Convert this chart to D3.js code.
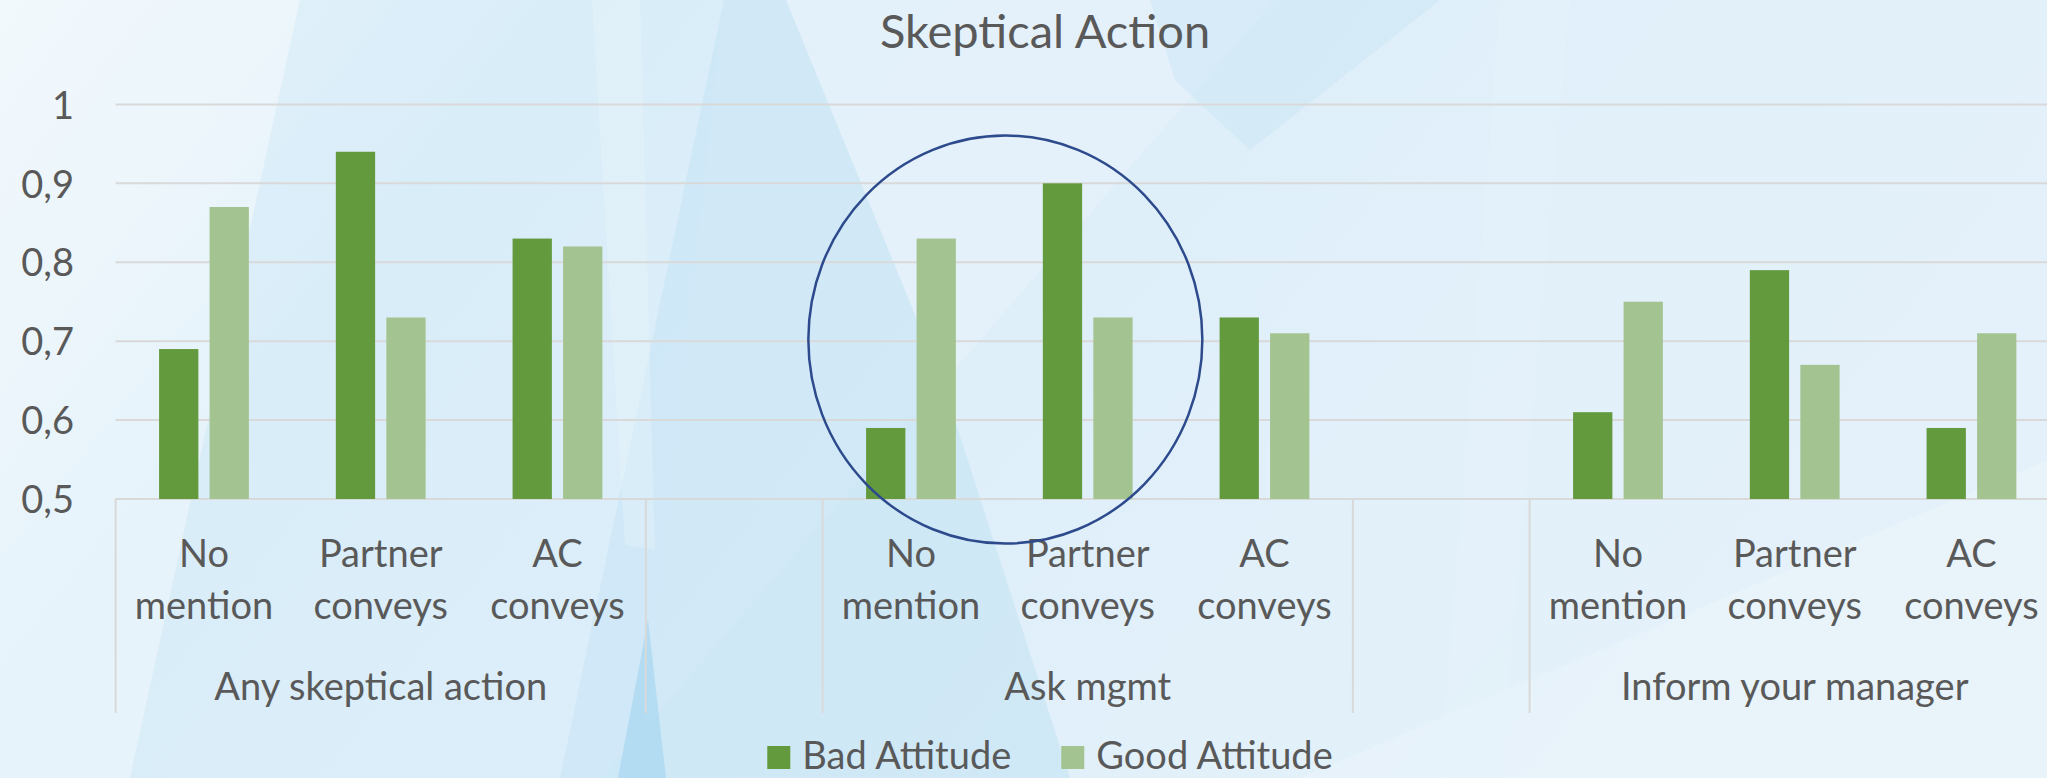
<!DOCTYPE html>
<html>
<head>
<meta charset="utf-8">
<script src="https://cdn.jsdelivr.net/npm/d3@7"></script>
<style>
  html, body { margin: 0; padding: 0; background: #e2f0f9; overflow: hidden; }
  svg { display: block; }
  text { font-family: Lato, "Open Sans", sans-serif; fill: #595959; }
</style>
</head>
<body>
<svg id="chart" width="2047" height="778"></svg>
<script>
// ---------------- data ----------------
const title = "Skeptical Action";
const groupLabels = ["Any skeptical action", "", "Ask mgmt", "", "Inform your manager"];
const groupSizes = [3, 1, 3, 1, 3];
const categories = [
  ["No", "mention"], ["Partner", "conveys"], ["AC", "conveys"],
  ["", ""],
  ["No", "mention"], ["Partner", "conveys"], ["AC", "conveys"],
  ["", ""],
  ["No", "mention"], ["Partner", "conveys"], ["AC", "conveys"]
];
const seriesNames = ["Bad Attitude", "Good Attitude"];
const badAttitude  = [0.69, 0.94, 0.83, null, 0.59, 0.90, 0.73, null, 0.61, 0.79, 0.59];
const goodAttitude = [0.87, 0.73, 0.82, null, 0.83, 0.73, 0.71, null, 0.75, 0.67, 0.71];
const yTicks = [0.5, 0.6, 0.7, 0.8, 0.9, 1.0];
const yTickLabels = ["0,5", "0,6", "0,7", "0,8", "0,9", "1"];
const colors = ["#639a3e", "#a3c490"];

// ---------------- layout ----------------
const W = 2047, H = 778;
const plotLeft = 115.6, slotW = 176.75;
const plotTop = 104.4, plotBottom = 499;
const axisBottom = 713;
const fs = 38;

const svg = d3.select("#chart");

// ---------- decorative background ----------
const defs = svg.append("defs");
const bg = defs.append("linearGradient").attr("id", "bg").attr("x1", 0).attr("y1", 0).attr("x2", 1).attr("y2", 0.3);
bg.append("stop").attr("offset", 0).attr("stop-color", "#ecf6fc");
bg.append("stop").attr("offset", 0.25).attr("stop-color", "#dceef8");
bg.append("stop").attr("offset", 0.6).attr("stop-color", "#dfeff9");
bg.append("stop").attr("offset", 1).attr("stop-color", "#e4f1fa");
svg.append("rect").attr("width", W).attr("height", H).attr("fill", "url(#bg)");

const shapes = [
  { pts: [[0,0],[300,0],[130,778],[0,778]], fill: "#ffffff", op: 0.3 },
  { pts: [[300,0],[724,0],[640,778],[130,778]], fill: "#d3eaf7", op: 0.3 },
  { pts: [[724,0],[786,0],[943,383],[602,778],[560,778]], fill: "#c6e4f5", op: 0.55 },
  { pts: [[786,0],[1275,0],[943,383]], fill: "#e9f4fb", op: 0.5 },
  { pts: [[943,383],[602,778],[1070,778]], fill: "#c0e1f4", op: 0.5 },
  { pts: [[592,0],[640,0],[655,550],[625,545]], fill: "#eef7fc", op: 0.3 },
  { pts: [[618,778],[648,620],[666,778]], fill: "#aad8f1", op: 0.75 },
  { pts: [[1150,0],[1440,0],[1250,150],[1175,80]], fill: "#c9e5f6", op: 0.5 },
  { pts: [[1300,778],[2047,460],[2047,778]], fill: "#f2f8fc", op: 0.3 },
  { pts: [[1500,0],[1570,0],[1500,778],[1440,778]], fill: "#e8f4fb", op: 0.3 }
];
svg.append("g").selectAll("polygon").data(shapes).join("polygon")
  .attr("points", d => d.pts.map(p => p.join(",")).join(" "))
  .attr("fill", d => d.fill).attr("opacity", d => d.op);

// ---------- scales ----------
const slots = d3.range(categories.length);
const x0 = d3.scaleBand().domain(slots).range([plotLeft, plotLeft + slotW * slots.length]).padding(0);
const x1 = d3.scaleBand().domain([0, 1]).range([0, x0.bandwidth()]).paddingInner(0.222).paddingOuter(0.861);
const y = d3.scaleLinear().domain([0.5, 1]).range([plotBottom, plotTop]);

// ---------- gridlines ----------
const gridRight = plotLeft + slotW * slots.length;
svg.append("g").selectAll("line").data(yTicks).join("line")
  .attr("x1", plotLeft).attr("x2", gridRight)
  .attr("y1", d => y(d)).attr("y2", d => y(d))
  .attr("stroke", "#d9d9d9").attr("stroke-width", 2);

// ---------- y axis labels ----------
const yAxis = d3.axisLeft(y).tickValues(yTicks).tickFormat((d, i) => yTickLabels[i]).tickSize(0).tickPadding(0);
const yg = svg.append("g").attr("transform", `translate(74,0)`).call(yAxis);
yg.select(".domain").remove();
yg.selectAll("text").attr("font-size", fs).attr("fill", "#595959")
  .style("font-family", "Lato, sans-serif").attr("dy", "0.36em");

// ---------- bars ----------
const barData = [];
slots.forEach(i => {
  [badAttitude[i], goodAttitude[i]].forEach((v, s) => {
    if (v != null) barData.push({ slot: i, s, v });
  });
});
svg.append("g").selectAll("rect").data(barData).join("rect")
  .attr("x", d => x0(d.slot) + x1(d.s))
  .attr("width", x1.bandwidth())
  .attr("y", d => y(d.v))
  .attr("height", d => y(0.5) - y(d.v))
  .attr("fill", d => colors[d.s]);

// ---------- category axis ----------
const boundaries = [0];
groupSizes.reduce((acc, n) => { boundaries.push(acc + n); return acc + n; }, 0);
svg.append("g").selectAll("line").data(boundaries.filter(b => b < slots.length)).join("line")
  .attr("x1", b => plotLeft + b * slotW).attr("x2", b => plotLeft + b * slotW)
  .attr("y1", plotBottom).attr("y2", axisBottom)
  .attr("stroke", "#d9d9d9").attr("stroke-width", 2);

const catG = svg.append("g");
slots.forEach(i => {
  const cx = x0(i) + x0.bandwidth() / 2;
  const t = catG.append("text").attr("text-anchor", "middle").attr("font-size", fs);
  t.append("tspan").attr("x", cx).attr("y", 566.5).text(categories[i][0]);
  t.append("tspan").attr("x", cx).attr("y", 619).text(categories[i][1]);
});
let start = 0;
groupLabels.forEach((g, gi) => {
  const n = groupSizes[gi];
  const cx = plotLeft + (start + n / 2) * slotW;
  catG.append("text").attr("text-anchor", "middle").attr("font-size", fs)
    .attr("x", cx).attr("y", 700).text(g);
  start += n;
});

// ---------- title ----------
svg.append("text").attr("x", 1045).attr("y", 48).attr("text-anchor", "middle")
  .attr("font-size", 47).text(title);

// ---------- annotation ellipse ----------
svg.append("ellipse")
  .attr("cx", x0(5) + 6).attr("cy", y(0.702))
  .attr("rx", 197).attr("ry", 204)
  .attr("fill", "none").attr("stroke", "#2c4a8c").attr("stroke-width", 2.5);

// ---------- legend ----------
const leg = svg.append("g");
const sq = 23, gapSqText = 12, gapItems = 50, legCenter = 1050, legBase = 769;
const items = seriesNames.map((name, i) => {
  const g = leg.append("g");
  g.append("rect").attr("width", sq).attr("height", sq).attr("y", legBase - sq).attr("fill", colors[i]);
  const t = g.append("text").attr("x", sq + gapSqText).attr("y", legBase).attr("font-size", fs).text(name);
  return { g, w: sq + gapSqText + t.node().getComputedTextLength() };
});
const total = d3.sum(items, d => d.w) + gapItems * (items.length - 1);
let lx = legCenter - total / 2;
items.forEach(it => { it.g.attr("transform", `translate(${lx},0)`); lx += it.w + gapItems; });
</script>
</body>
</html>
